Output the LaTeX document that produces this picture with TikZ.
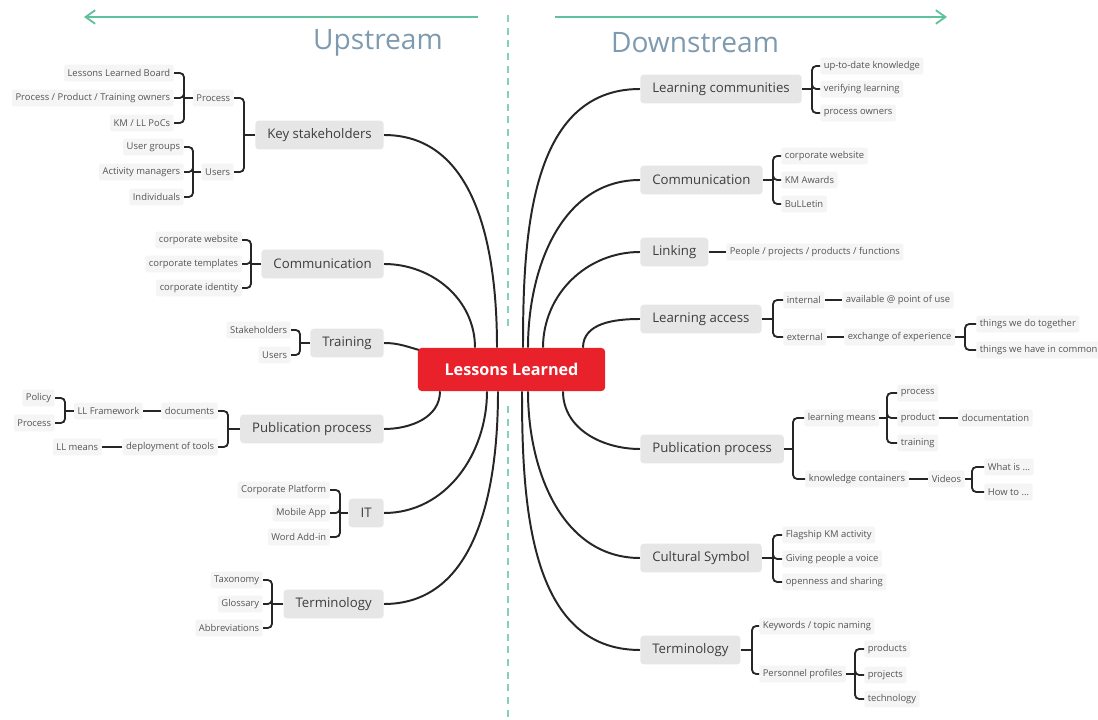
\documentclass[tikz,border=0pt]{standalone}
\usepackage{fontspec}
\setmainfont{Open Sans}
\usetikzlibrary{arrows.meta,positioning,calc,backgrounds}
\definecolor{llred}{HTML}{E8212B}
\definecolor{boxgrey}{HTML}{E6E6E6}
\definecolor{leafgrey}{HTML}{F5F5F5}
\definecolor{ink}{HTML}{262626}
\definecolor{txtgrey}{HTML}{3D3D3D}
\definecolor{leaftxt}{HTML}{555555}
\definecolor{streamgreen}{HTML}{5FC29D}
\definecolor{headblue}{HTML}{7E9AAF}
\newcommand\topicfont{\fontsize{9.4}{11}\selectfont}
\newcommand\leaffont{\fontsize{6.7}{8}\selectfont}
\tikzset{
  >={Straight Barb[length=2.4mm,width=3.4mm]},
  % mindmap
  hub/.style={fill=llred,text=white,font=\fontsize{11.5}{14}\selectfont\bfseries,
              rounded corners=2.5pt,minimum width=4.675cm,minimum height=1.075cm},
  topic/.style={fill=boxgrey,text=txtgrey,font=\topicfont,rounded corners=2.5pt,
                inner xsep=0.3cm,minimum height=0.72cm},
  ltopic/.style={topic,anchor=east},
  rtopic/.style={topic,anchor=west},
  leaf/.style={fill=leafgrey,text=leaftxt,font=\leaffont,inner xsep=2.5pt,
               inner ysep=2pt,minimum height=0.42cm,rounded corners=1pt},
  lleaf/.style={leaf,anchor=east},
  rleaf/.style={leaf,anchor=west},
  link/.style={draw=ink,line width=1.4pt},
  brace/.style={draw=ink,line width=1.3pt,rounded corners=3pt},
  % strömmar
  stream/.style={->,draw=streamgreen,line width=1.3pt},
  divider/.style={draw=streamgreen!75,line width=1pt,dash pattern=on 5pt off 4pt},
  heading/.style={text=headblue,font=\fontsize{20}{24}\selectfont},
}

\begin{document}
\begin{tikzpicture}[x=0.025cm,y=-0.025cm]
\useasboundingbox (0,0) rectangle (1098,720);
  % rubriker
  \coordinate (upA) at (478,17);  \coordinate (upB) at (84,17);
  \coordinate (dnA) at (555,17);  \coordinate (dnB) at (947,17);
  \coordinate (dvA) at (508,15);  \coordinate (dvB) at (508,330);
  \coordinate (dvC) at (508,406); \coordinate (dvD) at (508,720);
  \draw[stream] (upA) -- (upB);
  \draw[stream] (dnA) -- (dnB);
  \node[heading] (up) at (378,43) {Upstream};
  \node[heading] (down) at (695,43) {Downstream};

  \node[hub] (hub) at (511.5,369.5) {Lessons Learned};

  % upstream
  \node[ltopic] (ks) at (384,135) {Key stakeholders};
  \node[ltopic] (cl) at (384,264) {Communication};
  \node[ltopic] (trl) at (384,343) {Training};
  \node[ltopic] (pl) at (384,429) {Publication process};
  \node[ltopic] (itl) at (384,513) {IT};
  \node[ltopic] (tml) at (384,604) {Terminology};

  \node[lleaf] (proc) at (234,98) {Process};
  \node[lleaf] (usr) at (234,172) {Users};
  \node[lleaf] (lb) at (174,73) {Lessons Learned Board};
  \node[lleaf] (own) at (174,98) {Process / Product / Training owners};
  \node[lleaf] (kmp) at (174,123) {KM / LL PoCs};
  \node[lleaf] (ugr) at (184,147) {User groups};
  \node[lleaf] (act) at (184,172) {Activity managers};
  \node[lleaf] (ind) at (184,197) {Individuals};

  \node[lleaf] (cw) at (242,240) {corporate website};
  \node[lleaf] (ctp) at (242,264) {corporate templates};
  \node[lleaf] (cid) at (242,288) {corporate identity};

  \node[lleaf] (stk) at (291,330) {Stakeholders};
  \node[lleaf] (tus) at (291,355) {Users};

  \node[lleaf] (doc) at (218,411) {documents};
  \node[lleaf] (dep) at (218,447) {deployment of tools};
  \node[lleaf] (llf) at (143,411) {LL Framework};
  \node[lleaf] (llm) at (102,447) {LL means};
  \node[lleaf] (pol) at (55,398) {Policy};
  \node[lleaf] (prc) at (55,423) {Process};

  \node[lleaf] (cpl) at (330,490) {Corporate Platform};
  \node[lleaf] (mob) at (330,513) {Mobile App};
  \node[lleaf] (wad) at (330,537) {Word Add-in};

  \node[lleaf] (tax) at (263,580) {Taxonomy};
  \node[lleaf] (glo) at (263,604) {Glossary};
  \node[lleaf] (abb) at (263,628) {Abbreviations};

  % downstream
  \node[rtopic] (lc) at (640,89) {Learning communities};
  \node[rtopic] (crr) at (640,180) {Communication};
  \node[rtopic] (lnk) at (640,252) {Linking};
  \node[rtopic] (lac) at (640,319) {Learning access};
  \node[rtopic] (prr) at (640,449) {Publication process};
  \node[rtopic] (csr) at (640,558) {Cultural Symbol};
  \node[rtopic] (tmr) at (640,650) {Terminology};

  \node[rleaf] (upd) at (820,66) {up-to-date knowledge};
  \node[rleaf] (ver) at (820,89) {verifying learning};
  \node[rleaf] (pow) at (820,113) {process owners};

  \node[rleaf] (cw2) at (781,156) {corporate website};
  \node[rleaf] (kma) at (781,180) {KM Awards};
  \node[rleaf] (bul) at (781,204) {BuLLetin};

  \node[rleaf] (ppl) at (726,252) {People / projects / products / functions};

  \node[rleaf] (int) at (783,300) {internal};
  \node[rleaf] (ext) at (783,337) {external};
  \node[rleaf] (avl) at (842,300) {available @ point of use};
  \node[rleaf] (exc) at (844,337) {exchange of experience};
  \node[rleaf] (tdo) at (976,324) {things we do together};
  \node[rleaf] (tcm) at (976,350) {things we have in common};

  \node[rleaf] (lmn) at (804,418) {learning means};
  \node[rleaf] (kct) at (805,479) {knowledge containers};
  \node[rleaf] (pro) at (897,393) {process};
  \node[rleaf] (prd) at (897,418) {product};
  \node[rleaf] (trn) at (897,443) {training};
  \node[rleaf] (dcm) at (958,418) {documentation};
  \node[rleaf] (vid) at (928,479) {Videos};
  \node[rleaf] (wis) at (984,467) {What is ...};
  \node[rleaf] (hto) at (984,492) {How to ...};

  \node[rleaf] (fks) at (782,535) {Flagship KM activity};
  \node[rleaf] (gpv) at (782,559) {Giving people a voice};
  \node[rleaf] (ops) at (782,582) {openness and sharing};

  \node[rleaf] (kwd) at (759,626) {Keywords / topic naming};
  \node[rleaf] (pps) at (759,674) {Personnel profiles};
  \node[rleaf] (prds) at (864,649) {products};
  \node[rleaf] (prjs) at (864,675) {projects};
  \node[rleaf] (tech) at (864,699) {technology};

  % klamrar
  \coordinate (jks) at (244,135);  \coordinate (jproc) at (184,98);
  \coordinate (jusr) at (193,172); \coordinate (jcl) at (251,264);
  \coordinate (jtr) at (300,343);  \coordinate (jpl) at (228,429);
  \coordinate (jllf) at (65,411);  \coordinate (jit) at (340,513);
  \coordinate (jtm) at (272,604);
  \coordinate (jlc) at (812,89);   \coordinate (jcr) at (773,180);
  \coordinate (jla) at (773,319);  \coordinate (jexc) at (965,337);
  \coordinate (jpr) at (793,449);  \coordinate (jlm) at (887,418);
  \coordinate (jvid) at (972,479); \coordinate (jcs) at (773,558);
  \coordinate (jtmr) at (752,650); \coordinate (jpps) at (855,674);

  \draw[brace] (ks.west) -- (jks);
  \foreach \c in {proc,usr} \draw[brace] (jks) |- (\c.east);
  \draw[brace] (proc.west) -- (jproc);
  \foreach \c in {lb,own,kmp} \draw[brace] (jproc) |- (\c.east);
  \draw[brace] (usr.west) -- (jusr);
  \foreach \c in {ugr,act,ind} \draw[brace] (jusr) |- (\c.east);
  \draw[brace] (cl.west) -- (jcl);
  \foreach \c in {cw,ctp,cid} \draw[brace] (jcl) |- (\c.east);
  \draw[brace] (trl.west) -- (jtr);
  \foreach \c in {stk,tus} \draw[brace] (jtr) |- (\c.east);
  \draw[brace] (pl.west) -- (jpl);
  \foreach \c in {doc,dep} \draw[brace] (jpl) |- (\c.east);
  \draw[brace] (doc.west) -- (llf.east);
  \draw[brace] (dep.west) -- (llm.east);
  \draw[brace] (llf.west) -- (jllf);
  \foreach \c in {pol,prc} \draw[brace] (jllf) |- (\c.east);
  \draw[brace] (itl.west) -- (jit);
  \foreach \c in {cpl,mob,wad} \draw[brace] (jit) |- (\c.east);
  \draw[brace] (tml.west) -- (jtm);
  \foreach \c in {tax,glo,abb} \draw[brace] (jtm) |- (\c.east);

  \draw[brace] (lc.east) -- (jlc);
  \foreach \c in {upd,ver,pow} \draw[brace] (jlc) |- (\c.west);
  \draw[brace] (crr.east) -- (jcr);
  \foreach \c in {cw2,kma,bul} \draw[brace] (jcr) |- (\c.west);
  \draw[brace] (lnk.east) -- (ppl.west);
  \draw[brace] (lac.east) -- (jla);
  \foreach \c in {int,ext} \draw[brace] (jla) |- (\c.west);
  \draw[brace] (int.east) -- (avl.west);
  \draw[brace] (ext.east) -- (exc.west);
  \draw[brace] (exc.east) -- (jexc);
  \foreach \c in {tdo,tcm} \draw[brace] (jexc) |- (\c.west);
  \draw[brace] (prr.east) -- (jpr);
  \foreach \c in {lmn,kct} \draw[brace] (jpr) |- (\c.west);
  \draw[brace] (lmn.east) -- (jlm);
  \foreach \c in {pro,prd,trn} \draw[brace] (jlm) |- (\c.west);
  \draw[brace] (prd.east) -- (dcm.west);
  \draw[brace] (kct.east) -- (vid.west);
  \draw[brace] (vid.east) -- (jvid);
  \foreach \c in {wis,hto} \draw[brace] (jvid) |- (\c.west);
  \draw[brace] (csr.east) -- (jcs);
  \foreach \c in {fks,gpv,ops} \draw[brace] (jcs) |- (\c.west);
  \draw[brace] (tmr.east) -- (jtmr);
  \foreach \c in {kwd,pps} \draw[brace] (jtmr) |- (\c.west);
  \draw[brace] (pps.east) -- (jpps);
  \foreach \c in {prds,prjs,tech} \draw[brace] (jpps) |- (\c.west);

  \begin{scope}[on background layer]
    \draw[divider] (dvA) -- (dvB);
    \draw[divider] (dvC) -- (dvD);
    % grenar
    \draw[link] ($(hub.north)+(-14.5,0)$) to[out=90,in=0] (ks.east);
    \draw[link] ($(hub.north)+(-36.5,0)$) to[out=90,in=0] (cl.east);
    \draw[link] ($(hub.north west)+(4,3)$) to[out=165,in=0] (trl.east);
    \draw[link] ($(hub.south)+(-71.5,0)$) to[out=-90,in=0] (pl.east);
    \draw[link] ($(hub.south)+(-24.5,0)$) to[out=-90,in=0] (itl.east);
    \draw[link] ($(hub.south)+(-13.5,0)$) to[out=-90,in=0] (tml.east);
    \draw[link] ($(hub.north)+(11.5,0)$) to[out=90,in=180] (lc.west);
    \draw[link] ($(hub.north)+(16.5,0)$) to[out=90,in=180] (crr.west);
    \draw[link] ($(hub.north)+(31.5,0)$) to[out=90,in=180] (lnk.west);
    \draw[link] ($(hub.north)+(71.5,0)$) to[out=90,in=180] (lac.west);
    \draw[link] ($(hub.south)+(51.5,0)$) to[out=-90,in=180] (prr.west);
    \draw[link] ($(hub.south)+(16.5,0)$) to[out=-90,in=180] (csr.west);
    \draw[link] ($(hub.south)+(10.5,0)$) to[out=-90,in=180] (tmr.west);
  \end{scope}
\end{tikzpicture}
\end{document}
